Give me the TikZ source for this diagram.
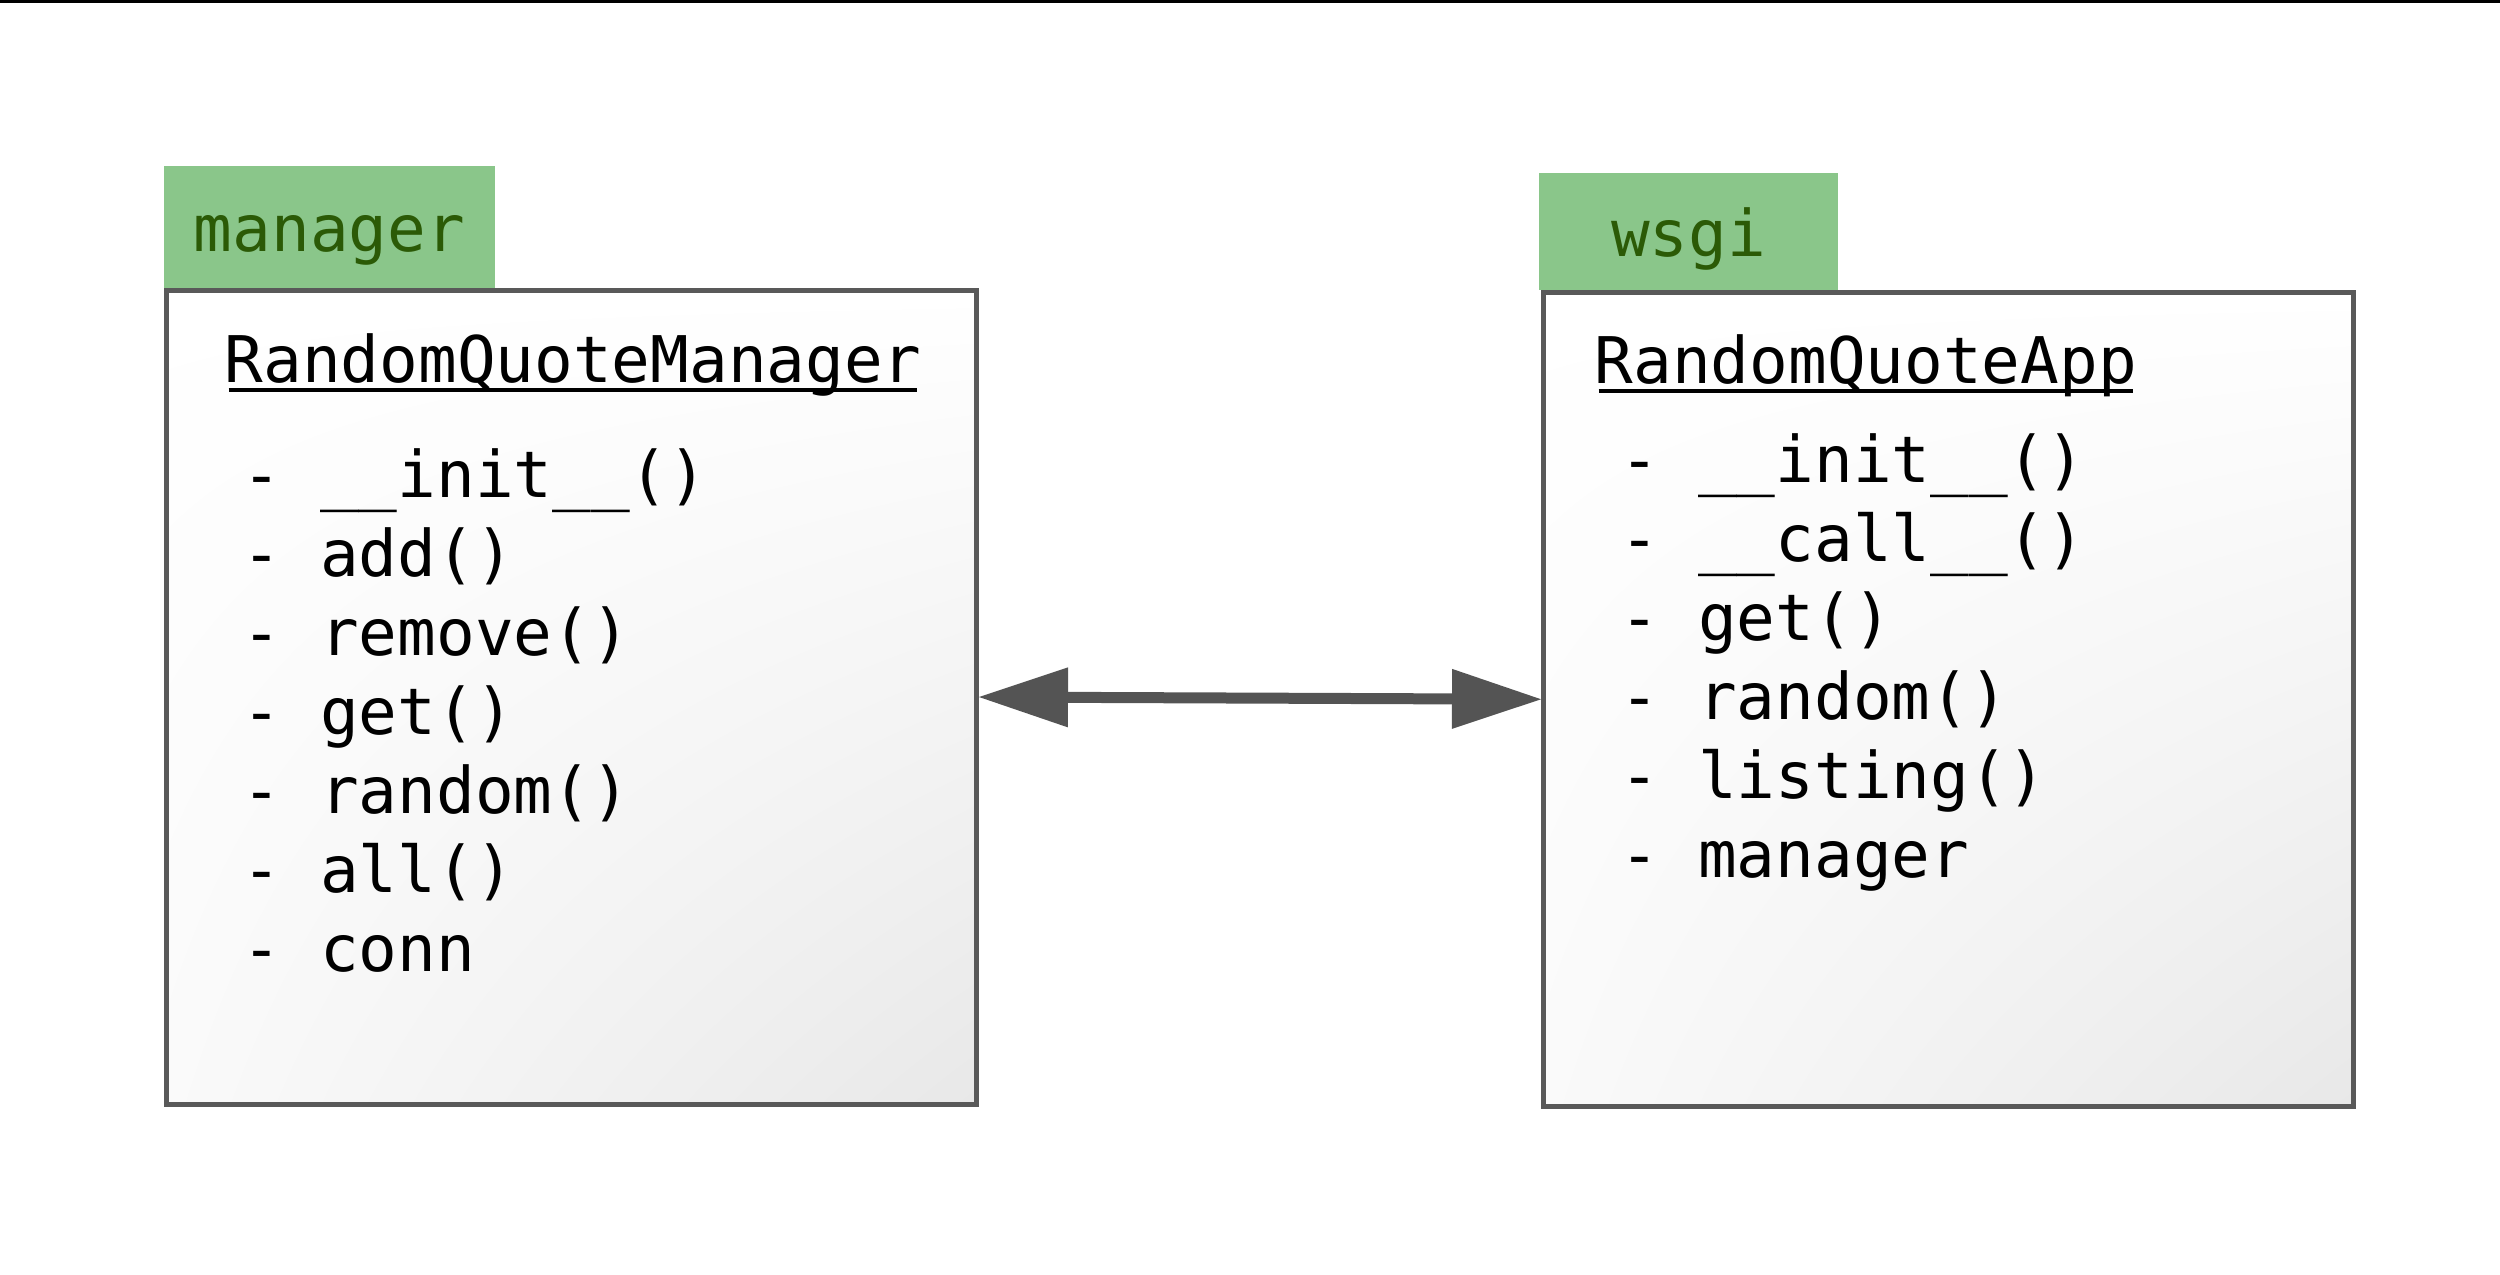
\documentclass[tikz,border=0pt]{standalone}
\usepackage{fontspec}
\newfontfamily\umlfont{DejaVu Sans Mono}
\usetikzlibrary{arrows.meta,positioning,shadings}
\definecolor{boxline}{HTML}{595959}
\definecolor{arrowgray}{HTML}{545454}
\definecolor{tabfill}{HTML}{8AC68A}
\definecolor{tabtext}{HTML}{2B5A06}

\begin{document}
\begin{tikzpicture}[x=0.1mm, y=-0.1mm,
    classbox/.style={draw=boxline, line width=0.5mm, anchor=north west, inner sep=0pt,
      minimum width=81mm, minimum height=81.4mm,
      upper left=white, upper right=white, lower left=black!2, lower right=black!9},
    pkgtab/.style={fill=tabfill, text=tabtext, anchor=south west, inner sep=0pt, outer sep=0pt,
      font=\umlfont\fontsize{18.3}{22}\selectfont, text height=14pt, text depth=0pt},
    classname/.style={anchor=base west, inner sep=0pt, font=\umlfont\fontsize{18.3}{22}\selectfont},
    member/.style={anchor=base west, inner sep=0pt, font=\umlfont\fontsize{18.3}{22}\selectfont},
    ulined/.style={line width=0.4mm},
    assoc/.style={draw=arrowgray, line width=1.1mm,
      {Triangle[length=8.9mm, width=6mm, line width=0pt]}-{Triangle[length=8.9mm, width=6mm, line width=0pt]}}]
  \useasboundingbox (0,0) rectangle (2500,1274);
  % rule at the top
  \draw[line width=0.25mm] (0,1.25) -- (2500,1.25);

  % manager
  \node[classbox] (mgrbox) at (164,287.5) {};
  \node[pkgtab, minimum width=33.1mm, minimum height=12.15mm] (mgrtab) at (mgrbox.north west) {manager};
  \node[classname] (mgrname) at (224,382) {RandomQuoteManager};
  \draw[ulined] ([xshift=0.45mm, yshift=-0.8mm]mgrname.base west) -- ([xshift=-0.5mm, yshift=-0.8mm]mgrname.base east);
  \foreach \m [count=\i from 0] in {\_\_init\_\_(), add(), remove(), get(), random(), all(), conn}
    \node[member] (mgr\i) at (242,497+\i*79) {- \m};

  % wsgi
  \node[classbox, minimum height=81.35mm] (appbox) at (1541,290) {};
  \node[pkgtab, minimum width=29.9mm, minimum height=11.7mm] (apptab) at ([xshift=-0.2mm]appbox.north west) {wsgi};
  \node[classname] (appname) at (1594,383) {RandomQuoteApp};
  \draw[ulined] ([xshift=0.45mm, yshift=-0.8mm]appname.base west) -- ([xshift=-0.5mm, yshift=-0.8mm]appname.base east);
  \foreach \m [count=\i from 0] in {\_\_init\_\_(), \_\_call\_\_(), get(), random(), listing(), manager}
    \node[member] (app\i) at (1620,482+\i*79) {- \m};

  % association
  \draw[assoc] (mgrbox.east) -- (appbox.west);
\end{tikzpicture}
\end{document}
